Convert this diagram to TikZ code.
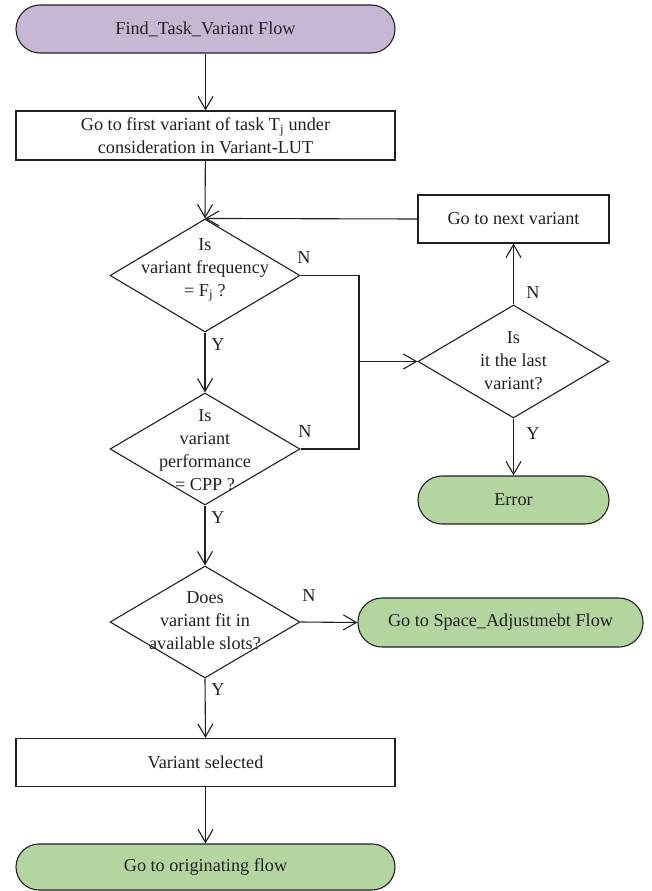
\documentclass[tikz,border=0pt]{standalone}
\usepackage{fontspec}
\setmainfont{Liberation Serif}
\usetikzlibrary{arrows.meta,shapes.geometric}

\definecolor{ink}{HTML}{231F20}
\definecolor{lavender}{HTML}{C6B8D5}
\definecolor{leaf}{HTML}{B3D6A1}

\tikzset{
  base/.style={draw=ink, line width=1.1pt, text=ink, inner sep=0pt,
    font=\fontsize{18.2}{22.5}\selectfont, align=center},
  procbox/.style={base, rectangle, minimum height=48pt},
  terminal/.style={base, rectangle, rounded corners=24pt, minimum height=48pt},
  decision/.style={base, diamond, aspect=1.68, minimum width=190pt, minimum height=113pt},
  dtext/.style={text=ink, inner sep=0pt, font=\fontsize{18.2}{23}\selectfont, align=center},
  flag/.style={text=ink, inner sep=0pt, font=\fontsize{18.2}{20}\selectfont},
  arr/.style={draw=ink, line width=1.1pt, -{Straight Barb[length=13pt,width=15pt,line width=1.1pt]}},
  wire/.style={draw=ink, line width=1.1pt},
}

\begin{document}
\begin{tikzpicture}[x=1pt, y=-1pt]
\useasboundingbox (0,0) rectangle (651,891);

% main column
\node[terminal, fill=lavender, minimum width=379pt] (start) at (205.5,29) {Find\_Task\_Variant Flow};
\node[procbox, minimum width=379pt, minimum height=49pt] (first) at (205.5,135.5)
  {Go to first variant of task T\textsubscript{j} under\\consideration in Variant-LUT};

\node[decision] (freq) at (205,275.5) {};
\node[dtext] (freqt) at (205,270) {Is\\variant frequency\\= F\textsubscript{j} ?};

\node[decision, minimum height=112pt] (perf) at (205,449) {};
\node[dtext] (perft) at (205,450) {Is\\variant\\performance\\= CPP ?};

\node[decision, minimum height=112pt] (fit) at (205,622) {};
\node[dtext] (fitt) at (205,621) {Does\\variant fit in\\available slots?};

\node[procbox, minimum width=379pt] (sel) at (205.5,762.5) {Variant selected};
\node[terminal, fill=leaf, minimum width=379pt, minimum height=46pt, rounded corners=23pt] (done) at (205.5,867) {Go to originating flow};

% right column
\node[procbox, minimum width=191pt] (next) at (513.5,219) {Go to next variant};
\node[decision, minimum width=191pt] (last) at (513.5,361.5) {};
\node[dtext] (lastt) at (513.5,361) {Is\\it the last\\variant?};
\node[terminal, fill=leaf, minimum width=191pt] (err) at (513.5,500) {Error};
\node[terminal, fill=leaf, minimum width=285pt, minimum height=49pt] (space) at (500.5,622.5) {Go to Space\_Adjustmebt Flow};

% branch labels
\node[flag] (y1) at (218,345) {Y};
\node[flag] (n1) at (304,258) {N};
\node[flag] (y2) at (218,518) {Y};
\node[flag] (n2) at (305,432) {N};
\node[flag] (y3) at (218,690) {Y};
\node[flag] (n3) at (309,596) {N};
\node[flag] (n4) at (533,293) {N};
\node[flag] (y4) at (533,434) {Y};

% connectors
\coordinate (bus) at (359,361.5);
\draw[arr] (start) -- (first);
\draw[arr] (first) -- (freq.north);
\draw[arr] (next.west) -- (freq.north);
\draw[arr] (freq.south) -- (perf.north);
\draw[arr] (perf.south) -- (fit.north);
\draw[arr] (fit.south) -- (sel.north);
\draw[arr] (sel) -- (done);
\draw[wire] (freq.east) -- (freq.east -| bus) -- (perf.east -| bus) -- (perf.east);
\draw[arr] (bus) -- (last.west);
\draw[arr] (last.north) -- (next.south);
\draw[arr] (last.south) -- (err.north);
\draw[arr] (fit.east) -- (space.west);
\end{tikzpicture}
\end{document}
